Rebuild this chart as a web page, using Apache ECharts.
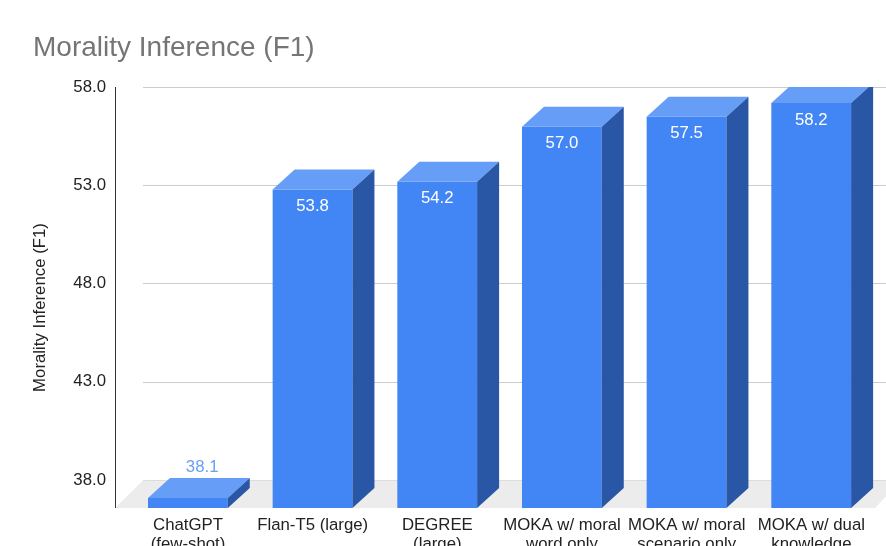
<!DOCTYPE html>
<html>
<head>
<meta charset="utf-8">
<script src="https://cdn.jsdelivr.net/npm/echarts@6/dist/echarts.min.js"></script>
<style>
  html, body { margin: 0; padding: 0; background: #fff; }
  #chart { width: 886px; height: 546px; }
</style>
</head>
<body>
<div id="chart"></div>
<script>
// data
const categories = [
    'ChatGPT\n(few-shot)',
    'Flan-T5 (large)',
    'DEGREE\n(large)',
    'MOKA w/ moral\nword only',
    'MOKA w/ moral\nscenario only',
    'MOKA w/ dual\nknowledge',
];
const f1Scores = [38.1, 53.8, 54.2, 57.0, 57.5, 58.2];
const yMin = 38;
const yMax = 58;
const yStep = 5;

// 3d look
const depthX = 22;
const depthY = 20;
const floorDepth = 28;
const fontFamily = '"Liberation Sans", Arial, sans-serif';
const fontSize = 16.8;

const chart = echarts.init(document.getElementById('chart'));

function renderFloor(params, api) {
    const cs = params.coordSys;
    const bottom = cs.y + cs.height;
    return {
        type: 'group',
        children: [
            {
                type: 'polygon',
                shape: {
                    points: [
                        [cs.x - floorDepth, bottom + floorDepth],
                        [cs.x, bottom + 0.5],
                        [cs.x + cs.width + 10, bottom + 0.5],
                        [cs.x + cs.width - 16, bottom + floorDepth],
                    ],
                },
                style: { fill: '#ececec' },
            },
            {
                type: 'line',
                shape: {
                    x1: cs.x - floorDepth + 0.5,
                    y1: cs.y,
                    x2: cs.x - floorDepth + 0.5,
                    y2: bottom + floorDepth,
                },
                style: { stroke: '#333', lineWidth: 1 },
            },
        ],
    };
}

function renderBar(params, api) {
    const cs = params.coordSys;
    const i = api.value(0);
    const v = api.value(1);
    const p = api.coord([i, v]);
    const band = api.size([1, 0])[0];
    const barW = band * 0.64;
    const fl = p[0] - band / 2 + band * 0.04;
    const fr = fl + barW;
    const ft = p[1] + depthY;
    const fb = cs.y + cs.height + floorDepth;
    // clip the back of the box at the top of the plot
    const backTop = Math.max(p[1], cs.y);
    const t = (ft - backTop) / depthY;

    const children = [
        {
            type: 'polygon',
            shape: { points: [[fl, ft], [fr, ft], [fr, fb], [fl, fb]] },
            style: { fill: '#4285f4' },
        },
        {
            type: 'polygon',
            shape: {
                points: [[fl, ft], [fr, ft], [fr + depthX * t, backTop], [fl + depthX * t, backTop]],
            },
            style: { fill: '#669df6' },
        },
        {
            type: 'polygon',
            shape: {
                points: [
                    [fr, ft],
                    [fr + depthX * t, backTop],
                    [fr + depthX, backTop],
                    [fr + depthX, fb - depthY],
                    [fr, fb],
                ],
            },
            style: { fill: '#2a56a6' },
        },
    ];

    const label = v.toFixed(1);
    if (fb - ft > 30) {
        children.push({
            type: 'text',
            style: {
                x: (fl + fr) / 2,
                y: ft + 17,
                text: label,
                fill: '#ffffff',
                font: `${fontSize}px ${fontFamily}`,
                align: 'center',
                verticalAlign: 'middle',
            },
        });
    } else {
        children.push({
            type: 'text',
            style: {
                x: (fl + fr) / 2 + depthX * 0.65,
                y: p[1] - 2,
                text: label,
                fill: '#6a9ef5',
                font: `${fontSize}px ${fontFamily}`,
                align: 'center',
                verticalAlign: 'bottom',
            },
        });
    }
    return { type: 'group', children };
}

const option = {
    animation: false,
    backgroundColor: '#fff',
    textStyle: { fontFamily },
    title: {
        text: 'Morality Inference (F1)',
        left: 33,
        top: 34,
        padding: 0,
        textStyle: {
            fontFamily,
            fontSize: 28,
            fontWeight: 'normal',
            color: '#757575',
        },
    },
    grid: [
        // back wall
        { left: 143, top: 87, width: 748, bottom: 66, outerBoundsMode: 'none' },
        // front plane, used for category labels and axis name
        { left: 125.7, top: 107, width: 748, bottom: 38, outerBoundsMode: 'none' },
    ],
    xAxis: [
        {
            gridIndex: 0,
            type: 'category',
            data: categories,
            show: false,
        },
        {
            gridIndex: 1,
            type: 'category',
            data: categories,
            axisLine: { show: false },
            axisTick: { show: false },
            axisLabel: {
                interval: 0,
                margin: 8,
                fontSize,
                lineHeight: 19,
                color: '#222',
                fontFamily,
            },
        },
    ],
    yAxis: [
        {
            gridIndex: 0,
            type: 'value',
            min: yMin,
            max: yMax,
            interval: yStep,
            axisLine: { show: false },
            axisTick: { show: false },
            axisLabel: {
                margin: 37,
                fontSize,
                color: '#222',
                fontFamily,
                formatter: (val) => val.toFixed(1),
            },
            splitLine: { lineStyle: { color: '#cccccc', width: 1 } },
        },
        {
            gridIndex: 1,
            type: 'value',
            min: yMin,
            max: yMax,
            axisLine: { show: false },
            axisTick: { show: false },
            axisLabel: { show: false },
            splitLine: { show: false },
            name: 'Morality Inference (F1)',
            nameLocation: 'middle',
            nameGap: 77,
            nameTextStyle: { fontSize, color: '#222', fontFamily },
        },
    ],
    series: [
        {
            name: 'floor',
            type: 'custom',
            xAxisIndex: 0,
            yAxisIndex: 0,
            clip: false,
            silent: true,
            z: 1,
            data: [[0, yMin]],
            renderItem: renderFloor,
        },
        {
            name: 'F1',
            type: 'custom',
            xAxisIndex: 0,
            yAxisIndex: 0,
            clip: false,
            z: 2,
            data: f1Scores.map((s, i) => [i, s]),
            renderItem: renderBar,
        },
    ],
};

chart.setOption(option);
</script>
</body>
</html>
